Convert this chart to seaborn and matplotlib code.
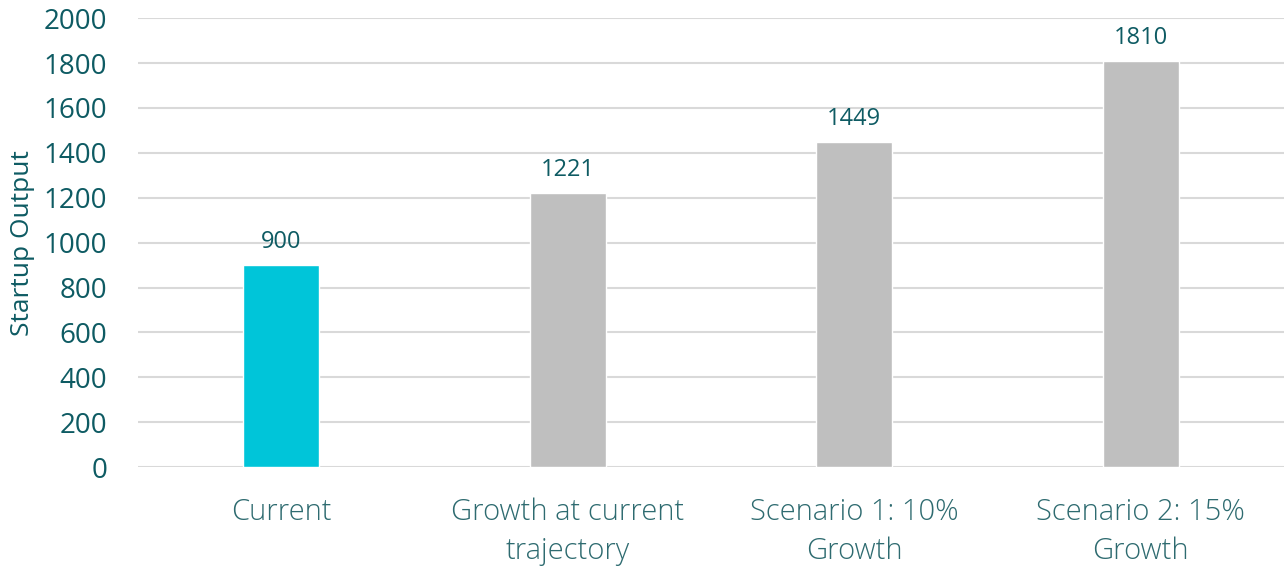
import numpy as np
import pandas as pd
import seaborn as sns
import matplotlib.pyplot as plt

categories = ["Current", "Growth at current\ntrajectory", "Scenario 1: 10%\nGrowth", "Scenario 2: 15%\nGrowth"]
values = [900, 1221, 1449, 1810]
bar_colors = ["#00C5D9", "#BFBFBF", "#BFBFBF", "#BFBFBF"]
yticks = [0, 200, 400, 600, 800, 1000, 1200, 1400, 1600, 1800, 2000]

text_color = "#0E5B63"
label_color = "#2E6B70"

sns.set_theme(style="white")
plt.rcParams['font.family'] = ['Open Sans', 'DejaVu Sans']

df = pd.DataFrame({'category': categories, 'value': values})

fig, ax = plt.subplots(figsize=(12.88, 5.69), dpi=100)
fig.subplots_adjust(left=0.107, right=0.997, top=0.968, bottom=0.179)

sns.barplot(data=df, x='category', y='value', hue='category', palette=bar_colors,
            width=0.266, legend=False, ax=ax, zorder=3, saturation=1)

ax.set_ylim(0, 2000)
ax.set_xlim(-0.5, 3.5)
ax.set_yticks(yticks)
ax.yaxis.grid(True, color="#D9D9D9", linewidth=1.5, zorder=0)
ax.set_axisbelow(True)
for s in ax.spines.values():
    s.set_visible(False)

ax.tick_params(axis='y', labelsize=20, colors=text_color, length=0, pad=22)
ax.tick_params(axis='x', labelsize=21, colors=label_color, length=0, pad=22)
for lab in ax.get_xticklabels():
    lab.set_fontweight('light')
    lab.set_linespacing(1.4)

ax.set_xlabel('')
ax.set_ylabel('Startup Output', fontsize=19, color=text_color, labelpad=6)

for i, v in enumerate(values):
    ax.annotate(str(v), (i, v), xytext=(0, 8), textcoords='offset points',
                ha='center', va='bottom', fontsize=17, color=text_color)

plt.savefig('out.png', dpi=100)
